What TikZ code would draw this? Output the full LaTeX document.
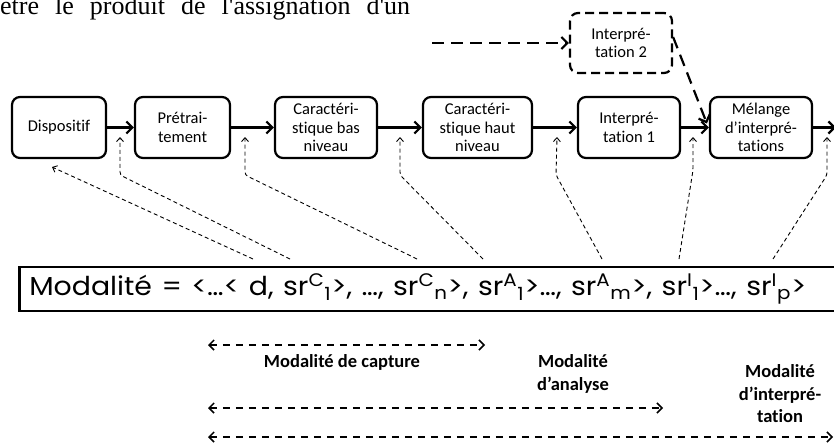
\documentclass[tikz,border=0pt]{standalone}
\usepackage{fontspec}
\usepackage{graphicx}
\setmainfont{Carlito}[Ligatures=NoCommon]
\newfontfamily\gothicf{Poppins}
\newfontfamily\seriff{Liberation Serif}
\usetikzlibrary{arrows.meta,calc}
\newcommand\srxy[2]{sr\textsuperscript{#1}\textsubscript{#2}}
\begin{document}
\begin{tikzpicture}[x=1pt,y=-1pt,
  box/.style={draw,line width=2.2pt,rounded corners=8pt,align=center,inner sep=0pt,
    minimum height=61pt,font=\fontsize{16.5}{18.8}\selectfont},
  flow/.style={line width=2.2pt,-{Straight Barb[length=6pt,width=12pt]}},
  flowdash/.style={flow,dash pattern=on 12pt off 7pt},
  conn/.style={line width=0.9pt,dash pattern=on 4pt off 3pt,rounded corners=3pt,
    -{Straight Barb[length=4pt,width=7pt]}},
  biarrow/.style={line width=1.5pt,dash pattern=on 7pt off 6pt,
    {Straight Barb[length=5pt,width=10pt]}-{Straight Barb[length=5pt,width=10pt]}},
  lab/.style={font=\bfseries\fontsize{18.5}{22.5}\selectfont,align=center},
]
\useasboundingbox (0,0) rectangle (834,444);
\clip (0,0) rectangle (834,444);

% cut-off line of page text
\node[anchor=base west,inner sep=0pt,font=\seriff\fontsize{26}{28}\selectfont] (pagetext) at (0,15)
  {\makebox[410pt][s]{être le produit de l'assignation d'un}};

% main chain
\node[box,minimum width=94pt] (disp) at (59,127.5) {Dispositif};
\node[box,minimum width=95pt] (pre) at (182.5,127.5) {Prétrai-\\tement};
\node[box,minimum width=102pt] (cbas) at (326,127.5) {Caractéri-\\stique bas\\niveau};
\node[box,minimum width=109pt] (chaut) at (477.5,127.5) {Caractéri-\\stique haut\\niveau};
\node[box,minimum width=102pt] (int1) at (629,127.5) {Interpré-\\tation 1};
\node[box,minimum width=102pt] (mel) at (761,127.5) {Mélange\\d’interpré-\\tations};
\node[box,dash pattern=on 9pt off 5pt,minimum width=102pt,minimum height=60pt] (int2) at (621,43) {Interpré-\\tation 2};

\draw[flow] (disp) -- (pre);
\draw[flow] (pre) -- (cbas);
\draw[flow] (cbas) -- (chaut);
\draw[flow] (chaut) -- (int1);
\draw[flow] (int1) -- (mel);
\coordinate (outr) at (836,127.5);
\draw[flow] (mel) -- (outr);

\coordinate (src2) at (432,43);
\draw[flowdash] (src2) -- (int2);
\draw[flowdash] ($(int2.east)+(0,-6)$) -- ($(mel.west)+(-2,-4)$);

% modality box
\node[draw,line width=2.6pt,anchor=west,inner xsep=10pt,inner ysep=0pt,minimum height=44pt,
  text width=850pt,align=left,font=\gothicf\fontsize{26}{30}\selectfont] (mod) at (18,289)
  {\resizebox{777pt}{\height}{Modalité = <…< d, \srxy{C}{1}>, …, \srxy{C}{n}>, \srxy{A}{1}>…, \srxy{A}{m}>, \srxy{I}{1}>…, \srxy{I}{p}>}};

% dashed connectors
\coordinate (b0) at (253,259);
\coordinate (t0) at (52,167);
\foreach \n/\bx/\kx/\ky/\tx in {1/290/120/175/120, 2/417/245/175/245, 3/483/400/175/400,
    4/602/556/175/557, 5/679/693/170/693, 6/773/827/175/827} {
  \coordinate (b\n) at (\bx,259);
  \coordinate (k\n) at (\kx,\ky);
  \coordinate (t\n) at (\tx,137);
}
\draw[conn] (b0) -- (t0);
\foreach \n in {1,...,6} { \draw[conn] (b\n) -- (k\n) -- (t\n); }

% modality ranges
\coordinate (r1a) at (208,345); \coordinate (r1b) at (485,345);
\coordinate (r2a) at (208,408); \coordinate (r2b) at (663,408);
\coordinate (r3a) at (208,437); \coordinate (r3b) at (833,437);
\draw[biarrow] (r1a) -- (r1b);
\draw[biarrow] (r2a) -- (r2b);
\draw[biarrow] (r3a) -- (r3b);

\node[lab] (lcap) at (342,362) {Modalité de capture};
\node[lab] (lana) at (573,374) {Modalité\\d’analyse};
\node[lab] (lint) at (780,394) {Modalité\\d’interpré-\\tation};
\end{tikzpicture}
\end{document}
